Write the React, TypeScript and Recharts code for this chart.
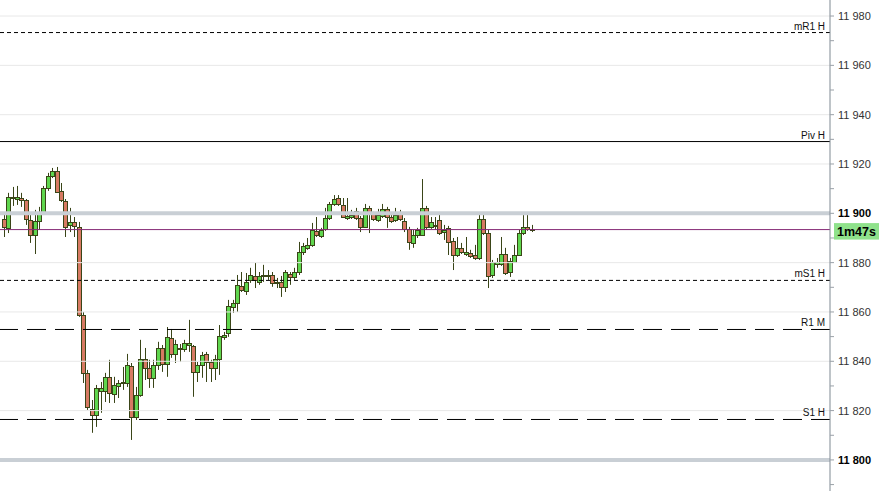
import React from 'react';
import { ComposedChart, Bar, XAxis, YAxis, ReferenceLine } from 'recharts';

const opens = [
  11897.7, 11894.1, 11906.2, 11905.8, 11906.2, 11905.4, 11897.3, 11891.2, 11896.9, 11900.1,
  11910.3, 11915.1, 11917.2, 11909.1, 11905.0, 11895.3, 11896.5, 11894.5, 11858.8, 11835.3,
  11820.7, 11818.3, 11828.0, 11828.0, 11833.7, 11826.8, 11830.0, 11831.2, 11831.2, 11838.1,
  11817.4, 11826.4, 11841.0, 11837.3, 11833.3, 11838.5, 11845.4, 11838.9, 11849.5, 11843.0,
  11845.0, 11845.0, 11846.6, 11846.2, 11835.7, 11838.5, 11843.0, 11839.7, 11837.3, 11841.0,
  11849.9, 11851.5, 11862.0, 11863.7, 11870.6, 11868.5, 11873.0, 11874.6, 11872.2, 11874.6,
  11874.6, 11875.0, 11871.8, 11872.2, 11870.2, 11875.4, 11874.2, 11876.2, 11884.3, 11886.0,
  11887.2, 11892.9, 11890.8, 11893.7, 11898.1, 11903.8, 11906.2, 11903.4, 11898.1, 11898.5,
  11901.0, 11898.1, 11894.5, 11902.2, 11899.7, 11897.3, 11898.9, 11901.8, 11898.5, 11897.3,
  11899.7, 11896.9, 11893.7, 11888.0, 11891.2, 11891.2, 11902.2, 11894.5, 11894.9, 11897.3,
  11892.4, 11894.1, 11888.8, 11883.1, 11886.0, 11883.5, 11883.9, 11883.1, 11881.9, 11897.7,
  11892.0, 11875.0, 11879.5, 11879.5, 11883.5, 11876.2, 11880.3, 11883.1, 11892.0, 11894.5,
  11893.3,
];
const highs = [
  11899.7, 11908.3, 11910.7, 11911.1, 11908.3, 11905.8, 11899.3, 11901.4, 11902.6, 11911.1,
  11916.4, 11918.4, 11918.8, 11912.3, 11905.8, 11902.2, 11898.5, 11896.5, 11860.0, 11836.5,
  11824.3, 11830.4, 11831.6, 11835.3, 11840.6, 11833.7, 11832.4, 11837.7, 11843.0, 11839.3,
  11829.6, 11848.7, 11845.4, 11840.6, 11840.6, 11847.9, 11846.6, 11853.9, 11853.1, 11848.7,
  11847.0, 11848.7, 11856.8, 11846.6, 11839.7, 11843.8, 11843.8, 11840.6, 11842.6, 11854.7,
  11851.9, 11864.9, 11864.9, 11875.0, 11876.2, 11875.8, 11877.9, 11879.9, 11876.2, 11879.1,
  11877.0, 11876.2, 11873.8, 11874.6, 11877.0, 11876.2, 11877.9, 11888.4, 11888.0, 11890.0,
  11896.1, 11898.5, 11894.1, 11902.2, 11904.6, 11907.4, 11907.4, 11906.2, 11906.2, 11901.4,
  11902.2, 11898.9, 11903.8, 11903.0, 11900.6, 11901.8, 11903.8, 11902.6, 11899.3, 11902.2,
  11901.4, 11898.1, 11894.5, 11893.3, 11894.1, 11913.9, 11903.0, 11898.5, 11898.5, 11899.7,
  11895.3, 11894.9, 11890.0, 11890.4, 11888.0, 11890.4, 11885.2, 11887.2, 11899.7, 11899.7,
  11893.3, 11881.1, 11881.9, 11890.4, 11886.0, 11881.9, 11887.2, 11893.3, 11899.3, 11899.7,
  11895.3,
];
const lows = [
  11890.4, 11892.0, 11903.0, 11903.4, 11902.6, 11895.3, 11888.0, 11883.5, 11893.3, 11899.3,
  11909.1, 11914.3, 11908.3, 11904.6, 11890.4, 11892.4, 11890.4, 11858.0, 11831.2, 11820.3,
  11811.0, 11813.4, 11819.1, 11823.5, 11823.1, 11823.1, 11825.1, 11828.4, 11829.6, 11808.1,
  11816.2, 11825.6, 11832.4, 11829.2, 11829.2, 11836.5, 11835.7, 11833.7, 11841.4, 11839.3,
  11839.7, 11843.8, 11843.8, 11825.6, 11831.6, 11833.3, 11831.6, 11831.6, 11832.4, 11834.5,
  11848.7, 11849.9, 11859.6, 11860.0, 11868.1, 11866.9, 11871.8, 11869.7, 11871.0, 11872.2,
  11873.0, 11870.2, 11869.7, 11866.1, 11868.1, 11871.0, 11873.0, 11875.0, 11883.1, 11885.2,
  11886.4, 11890.4, 11890.0, 11892.9, 11897.3, 11903.0, 11903.0, 11898.1, 11897.3, 11897.7,
  11897.3, 11892.4, 11894.1, 11892.0, 11896.9, 11896.5, 11898.1, 11894.1, 11896.1, 11896.5,
  11896.9, 11892.4, 11885.2, 11886.0, 11890.0, 11890.8, 11893.3, 11893.7, 11893.3, 11891.2,
  11889.2, 11883.1, 11877.0, 11882.3, 11883.5, 11882.7, 11881.9, 11881.1, 11881.1, 11891.2,
  11869.7, 11873.8, 11877.9, 11878.7, 11875.0, 11874.2, 11879.9, 11882.7, 11891.2, 11892.9,
  11892.4,
];
const closes = [
  11894.5, 11906.6, 11906.6, 11906.6, 11905.4, 11897.7, 11891.2, 11896.9, 11900.1, 11910.3,
  11915.1, 11917.2, 11908.7, 11905.4, 11894.5, 11896.5, 11894.9, 11858.8, 11835.3, 11821.5,
  11818.3, 11829.2, 11829.2, 11833.7, 11827.2, 11830.4, 11831.2, 11831.6, 11838.5, 11817.4,
  11826.4, 11841.0, 11837.3, 11833.3, 11838.5, 11845.4, 11838.9, 11849.9, 11843.0, 11847.0,
  11845.4, 11847.4, 11847.4, 11835.7, 11838.5, 11842.6, 11839.7, 11837.3, 11841.0, 11850.3,
  11850.7, 11862.4, 11863.7, 11871.0, 11868.9, 11872.2, 11875.0, 11873.0, 11874.6, 11875.0,
  11875.0, 11871.8, 11872.2, 11870.2, 11876.2, 11874.2, 11876.2, 11884.3, 11886.8, 11887.2,
  11893.3, 11891.2, 11893.3, 11898.1, 11903.8, 11905.8, 11903.8, 11898.5, 11898.9, 11899.3,
  11898.1, 11894.5, 11902.2, 11899.7, 11897.7, 11899.3, 11901.8, 11898.5, 11896.9, 11899.3,
  11897.7, 11893.7, 11888.4, 11891.2, 11893.3, 11902.2, 11894.5, 11896.5, 11895.3, 11892.0,
  11893.3, 11888.4, 11883.1, 11886.0, 11884.3, 11884.3, 11882.7, 11881.9, 11897.7, 11892.0,
  11874.6, 11880.3, 11880.3, 11883.5, 11875.8, 11880.7, 11883.1, 11892.0, 11894.5, 11893.7,
  11893.7,
];

const yTicks = [
  11790, 11800, 11810, 11820, 11830, 11840, 11850, 11860, 11870, 11880,
  11890, 11900, 11910, 11920, 11930, 11940, 11950, 11960, 11970, 11980,
];
const labeledTicks = [11800, 11820, 11840, 11860, 11880, 11900, 11920, 11940, 11960, 11980];
const boldTicks = [11800, 11900];
const gridValues = [11820, 11840, 11860, 11880, 11920, 11940, 11960, 11980];
const roundLevels = [11900, 11800];

const levelNames = ['mR1 H', 'Piv H', 'mS1 H', 'R1 M', 'S1 H'];
const levelValues = [11973.3, 11929.1, 11872.8, 11852.9, 11816.4];
const levelKinds = ['dot', 'solid', 'dot', 'dash', 'dash'];

const currentPrice = 11893.4;
const timerText = '1m47s';

const data = opens.map((o, k) => ({
  i: k + 1,
  open: o,
  high: highs[k],
  low: lows[k],
  close: closes[k],
  range: [lows[k], highs[k]],
}));

const OUTLINE = '#3a4518';
const GREEN = '#5fd64e';
const RED = '#d77a63';
const FONT = 'Liberation Sans, Arial, sans-serif';

const Candle = (props: any) => {
  const { x, y, width, height, payload } = props;
  if (!payload || height == null) return <g />;
  const { open, close, high, low } = payload;
  const px = Math.round(x + width / 2);
  const ratio = high - low > 0 ? height / (high - low) : 0;
  const yOf = (v: number) => y + (high - v) * ratio;
  const up = close >= open;
  const top = Math.round(yOf(Math.max(open, close)));
  const bot = Math.round(yOf(Math.min(open, close)));
  return (
    <g>
      <line x1={px + 0.5} x2={px + 0.5} y1={y} y2={y + height} stroke={OUTLINE} strokeWidth={1} />
      <rect
        x={px - 1.5}
        y={top + 0.5}
        width={4}
        height={Math.max(1, bot - top)}
        fill={up ? GREEN : RED}
        stroke={OUTLINE}
        strokeWidth={1}
      />
    </g>
  );
};

const formatTick = (v: number) => {
  const s = String(v);
  return s.slice(0, s.length - 3) + ' ' + s.slice(s.length - 3);
};

const AxisTick = (props: any) => {
  const { x, y, payload } = props;
  const v = payload.value;
  if (!labeledTicks.includes(v)) return <g />;
  const bold = boldTicks.includes(v);
  return (
    <text
      x={x}
      y={y}
      dy="0.36em"
      textAnchor="start"
      fontFamily={FONT}
      fontSize={11}
      fontWeight={bold ? 'bold' : 'normal'}
      fill={bold ? '#000' : '#333'}
    >
      {formatTick(v)}
    </text>
  );
};

const levelLabel = (text: string) => (props: any) => {
  const vb = props.viewBox || {};
  return (
    <text
      x={vb.x + vb.width - 5}
      y={vb.y - 3}
      textAnchor="end"
      fontFamily={FONT}
      fontSize={10}
      fill="#111"
    >
      {text}
    </text>
  );
};

const timerLabel = (props: any) => {
  const vb = props.viewBox || {};
  const left = vb.x + vb.width + 4;
  return (
    <g>
      <rect x={left} y={vb.y - 6.5} width={45} height={16.5} fill="#8fe28b" />
      <text
        x={left + 22.5}
        y={vb.y + 2}
        dy="0.36em"
        textAnchor="middle"
        fontFamily={FONT}
        fontSize={12.5}
        fontWeight="bold"
        fill="#000"
      >
        {timerText}
      </text>
    </g>
  );
};

const dashFor: Record<string, string | undefined> = {
  dot: '4 3',
  solid: undefined,
  dash: '19 9',
};

export default function App() {
  return (
    <div style={{ position: 'absolute', left: 0, top: 0, width: 888, height: 491, background: '#fff' }}>
      <ComposedChart
        width={888}
        height={491}
        data={data}
        margin={{ top: 0, right: 0, bottom: 0, left: 0 }}
      >
        <XAxis dataKey="i" type="number" domain={[0.09, 188.7]} allowDataOverflow hide />
        <YAxis
          orientation="right"
          type="number"
          domain={[11787.4, 11986.5]}
          allowDataOverflow
          ticks={yTicks}
          interval={0}
          width={58}
          tickSize={4}
          tickMargin={4}
          axisLine={{ stroke: '#7f8992' }}
          tickLine={{ stroke: '#9aa1a8' }}
          tick={(p: any) => <AxisTick {...p} />}
        />
        {gridValues.map((v) => (
          <ReferenceLine key={'g' + v} y={v} stroke="#e8e8e8" strokeWidth={1} />
        ))}
        {roundLevels.map((v) => (
          <ReferenceLine key={'r' + v} y={v} stroke="#c9cfd5" strokeWidth={4} />
        ))}
        {levelValues.map((v, k) => (
          <ReferenceLine
            key={'l' + k}
            y={v}
            stroke="#000"
            strokeWidth={1}
            strokeDasharray={dashFor[levelKinds[k]]}
            label={levelLabel(levelNames[k])}
          />
        ))}
        <Bar dataKey="range" barSize={4} isAnimationActive={false} shape={(p: any) => <Candle {...p} />} />
        <ReferenceLine y={currentPrice} stroke="#862a76" strokeWidth={1} label={timerLabel} />
      </ComposedChart>
    </div>
  );
}
